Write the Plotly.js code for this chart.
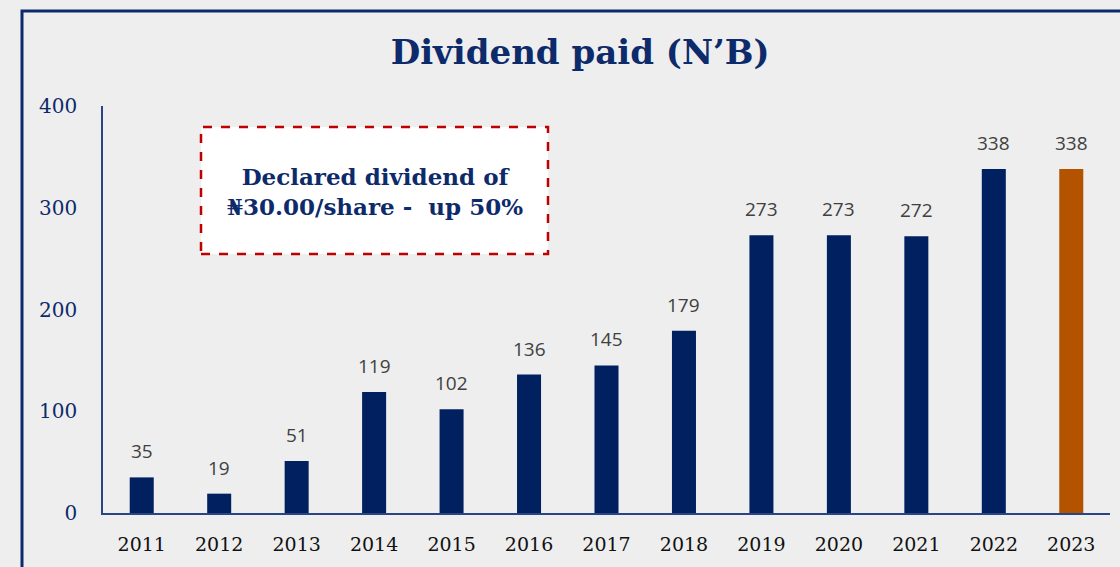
<!DOCTYPE html>
<html>
<head>
<meta charset="utf-8">
<script src="https://cdn.plot.ly/plotly-3.0.1.min.js"></script>
<style>html,body{margin:0;padding:0;background:#eeeeee;}#chart{width:1120px;height:567px;}</style>
</head>
<body>
<div id="chart"></div>
<script>
const years = ["2011","2012","2013","2014","2015","2016","2017","2018","2019","2020","2021","2022","2023"];
const dividends = [35, 19, 51, 119, 102, 136, 145, 179, 273, 273, 272, 338, 338];
const barColors = ["#002060","#002060","#002060","#002060","#002060","#002060","#002060","#002060","#002060","#002060","#002060","#002060","#B35300"];
const yTicks = [0, 100, 200, 300, 400];
const titleText = "Dividend paid (N’B)";
const noteText = "Declared dividend of<br>₦30.00/share -  up 50%";

const navy = "#0d2a6b";

const trace = {
  type: "bar",
  x: years,
  y: dividends,
  marker: {color: barColors},
  hoverinfo: "x+y"
};

const labels = years.map((yr, i) => ({
  x: i, y: dividends[i], xref: "x", yref: "y",
  text: String(dividends[i]), showarrow: false, yshift: 26,
  font: {family: "Open Sans, Noto Sans, sans-serif", size: 19, color: "#404040"}
}));

const px = p => (p - 103) / 1007;
const py = p => (513 - p) / 407;

const layout = {
  width: 1120, height: 567,
  margin: {l: 103, r: 10, t: 106, b: 54},
  paper_bgcolor: "#eeeeee",
  plot_bgcolor: "rgba(0,0,0,0)",
  bargap: 0.69,
  showlegend: false,
  title: {
    text: "<b>" + titleText + "</b>",
    x: 0.518, xanchor: "center", y: 0.908, yanchor: "middle",
    font: {family: "DejaVu Serif, serif", size: 34, color: navy}
  },
  xaxis: {
    type: "category",
    range: [-0.5, years.length - 0.5],
    showline: true, linecolor: "#2a4585", linewidth: 1.5,
    showgrid: false, zeroline: false, ticks: "",
    ticklabelstandoff: 13,
    tickfont: {family: "DejaVu Serif, serif", size: 19, color: "#111111"}
  },
  yaxis: {
    range: [0, 400],
    tickvals: yTicks,
    showline: true, linecolor: "#2a4585", linewidth: 1.5,
    showgrid: false, zeroline: false, ticks: "",
    ticklabelstandoff: 20,
    tickfont: {family: "DejaVu Serif, serif", size: 20, color: navy}
  },
  shapes: [
    {type: "rect", xref: "paper", yref: "paper",
     x0: px(22), x1: px(1130), y0: py(580), y1: py(11),
     line: {color: "#0d2a6b", width: 3}, fillcolor: "rgba(0,0,0,0)", layer: "below"},
    {type: "rect", xref: "paper", yref: "paper",
     x0: px(201), x1: px(548), y0: py(254), y1: py(127),
     line: {color: "#c00000", width: 2.5, dash: "dash"}, fillcolor: "#ffffff", layer: "above"}
  ],
  annotations: labels.concat([
    {xref: "paper", yref: "paper", x: px(375), y: py(191),
     xanchor: "center", yanchor: "middle", showarrow: false,
     text: "<b>" + noteText + "</b>", align: "center",
     font: {family: "DejaVu Serif, serif", size: 23, color: navy}}
  ])
};

Plotly.newPlot("chart", [trace], layout, {displayModeBar: false});
</script>
</body>
</html>
